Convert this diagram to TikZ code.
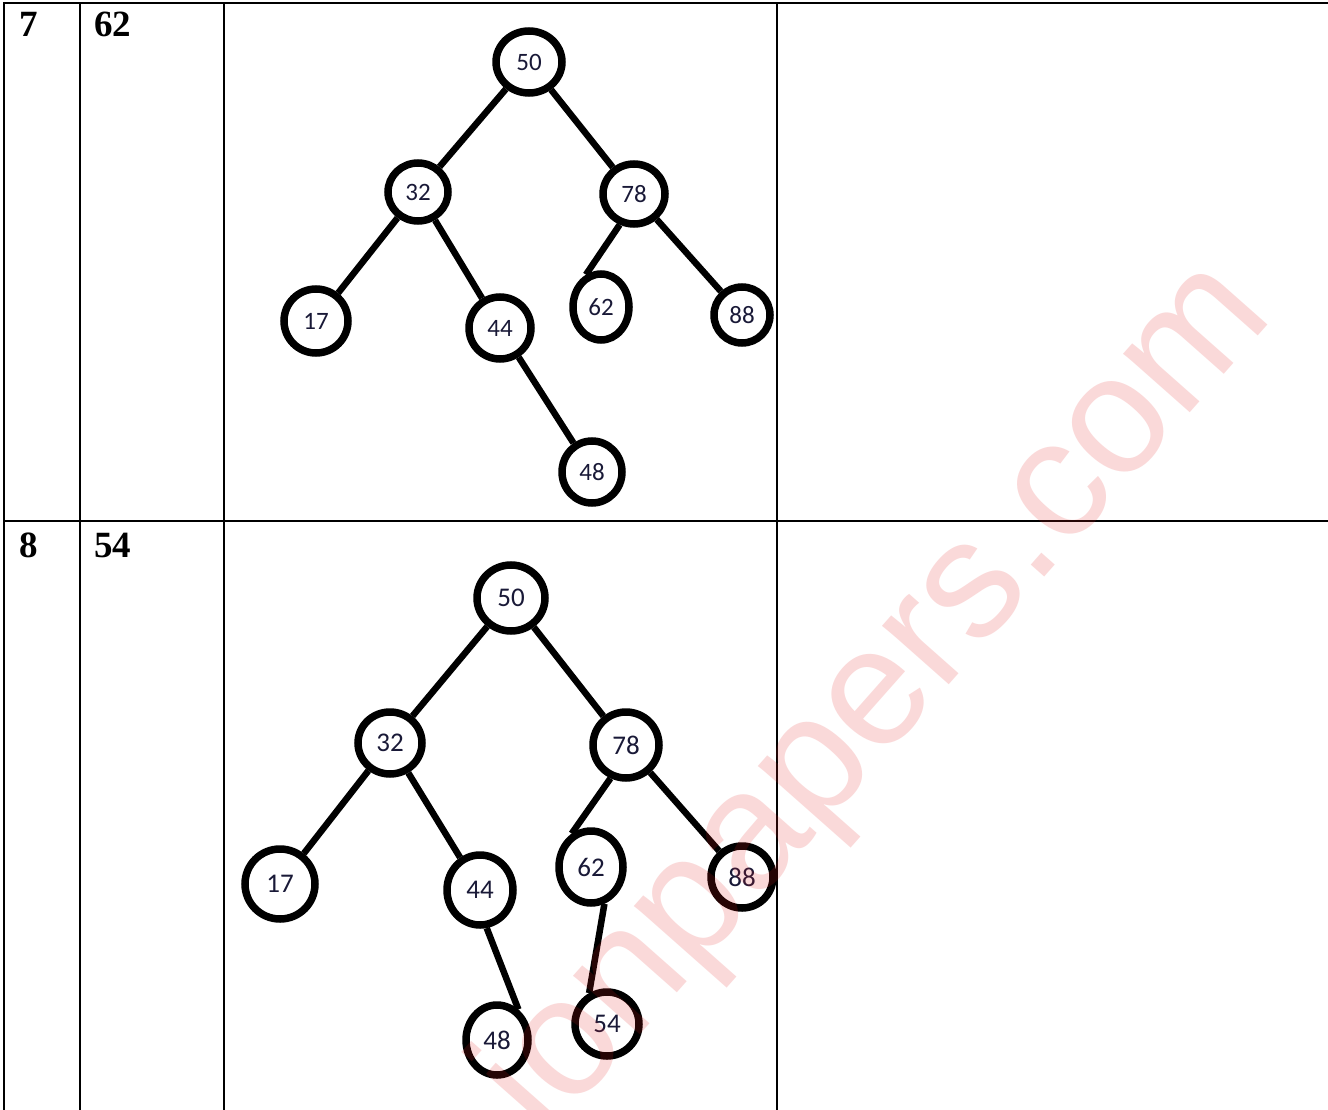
\documentclass[tikz,border=0pt]{standalone}
\usepackage{fontspec}
\setmainfont{Liberation Serif}
\newfontfamily\keyfont{Carlito}
\newfontfamily\markfont{Liberation Sans}
\usetikzlibrary{shapes.geometric}
\definecolor{inkblue}{RGB}{25,25,55}
\definecolor{markred}{RGB}{230,30,30}
\begin{document}
\begin{tikzpicture}[x=1pt,y=-1pt,
  rule/.style={line width=2.2pt},
  cellnum/.style={font=\bfseries\fontsize{37}{40}\selectfont, anchor=base west, inner sep=0pt},
  key/.style n args={2}{ellipse, draw, line width=7.5pt, inner sep=0pt,
    minimum width=#1, minimum height=#2, text=inkblue},
  smallkey/.style={font=\keyfont\fontsize{25}{27}\selectfont},
  bigkey/.style={font=\keyfont\fontsize{27}{29}\selectfont},
  edge/.style={line width=6.5pt}]
\useasboundingbox (0,0) rectangle (1328,1110);
\fill[white] (0,0) rectangle (1328,1110);

% table rules
\draw[rule] (4,1110) -- (4,3) -- (1328,3);
\draw[rule] (4,521) -- (1328,521);
\draw[rule] (80,3) -- (80,1110);
\draw[rule] (224,3) -- (224,1110);
\draw[rule] (777,3) -- (777,1110);

% row labels
\node[cellnum] (r7)  at (19,37)  {7};
\node[cellnum] (k62) at (94,37)  {62};
\node[cellnum] (r8)  at (19,557) {8};
\node[cellnum] (k54) at (94,557) {54};

% tree after inserting 62
\begin{scope}[every node/.append style={smallkey}]
\node[key={66pt}{62pt}] (a50) at (529,62)  {50};
\node[key={60pt}{58pt}] (a32) at (418,192) {32};
\node[key={62pt}{60pt}] (a78) at (634,194) {78};
\node[key={64pt}{64pt}] (a17) at (316,321) {17};
\node[key={62pt}{62pt}] (a44) at (500,328) {44};
\node[key={56pt}{66pt}] (a62) at (601,307) {62};
\node[key={56pt}{56pt}] (a88) at (742,315) {88};
\node[key={60pt}{62pt}] (a48) at (592,472) {48};
\end{scope}
\draw[edge] (a50) -- (a32);
\draw[edge] (a50) -- (a78);
\draw[edge] (a32) -- (a17);
\draw[edge] (a32) -- (a44);
\draw[edge] (a78.245) -- (a62.115);
\draw[edge] (a78) -- (a88);
\draw[edge] (a44) -- (a48);

% tree after inserting 54
\begin{scope}[every node/.append style={bigkey}]
\node[key={68pt}{66pt}] (b50) at (511,598)  {50};
\node[key={64pt}{62pt}] (b32) at (390,743)  {32};
\node[key={66pt}{66pt}] (b78) at (626,745)  {78};
\node[key={70pt}{70pt}] (b17) at (280,884)  {17};
\node[key={66pt}{70pt}] (b44) at (480,890)  {44};
\node[key={64pt}{72pt}] (b62) at (591,867)  {62};
\node[key={62pt}{62pt}] (b88) at (742,877)  {88};
\node[key={62pt}{70pt}] (b48) at (497,1040) {48};
\node[key={64pt}{64pt}] (b54) at (607,1024) {54};
\end{scope}
\draw[edge] (b50) -- (b32);
\draw[edge] (b50) -- (b78);
\draw[edge] (b32) -- (b17);
\draw[edge] (b32) -- (b44);
\draw[edge] (b78.245) -- (b62.120);
\draw[edge] (b78) -- (b88);
\draw[edge] (b44.280) -- (b48.55);
\draw[edge] (b62.290) -- (b54.120);

% faint watermark across the page
\begin{scope}
\clip (0,0) rectangle (1328,1110);
\node[rotate=48.5, text=markred, text opacity=0.17, inner sep=0pt,
  font=\markfont\fontsize{168}{168}\selectfont] (mark) at (878,700) {ionpapers.com};
\end{scope}
\end{tikzpicture}
\end{document}
